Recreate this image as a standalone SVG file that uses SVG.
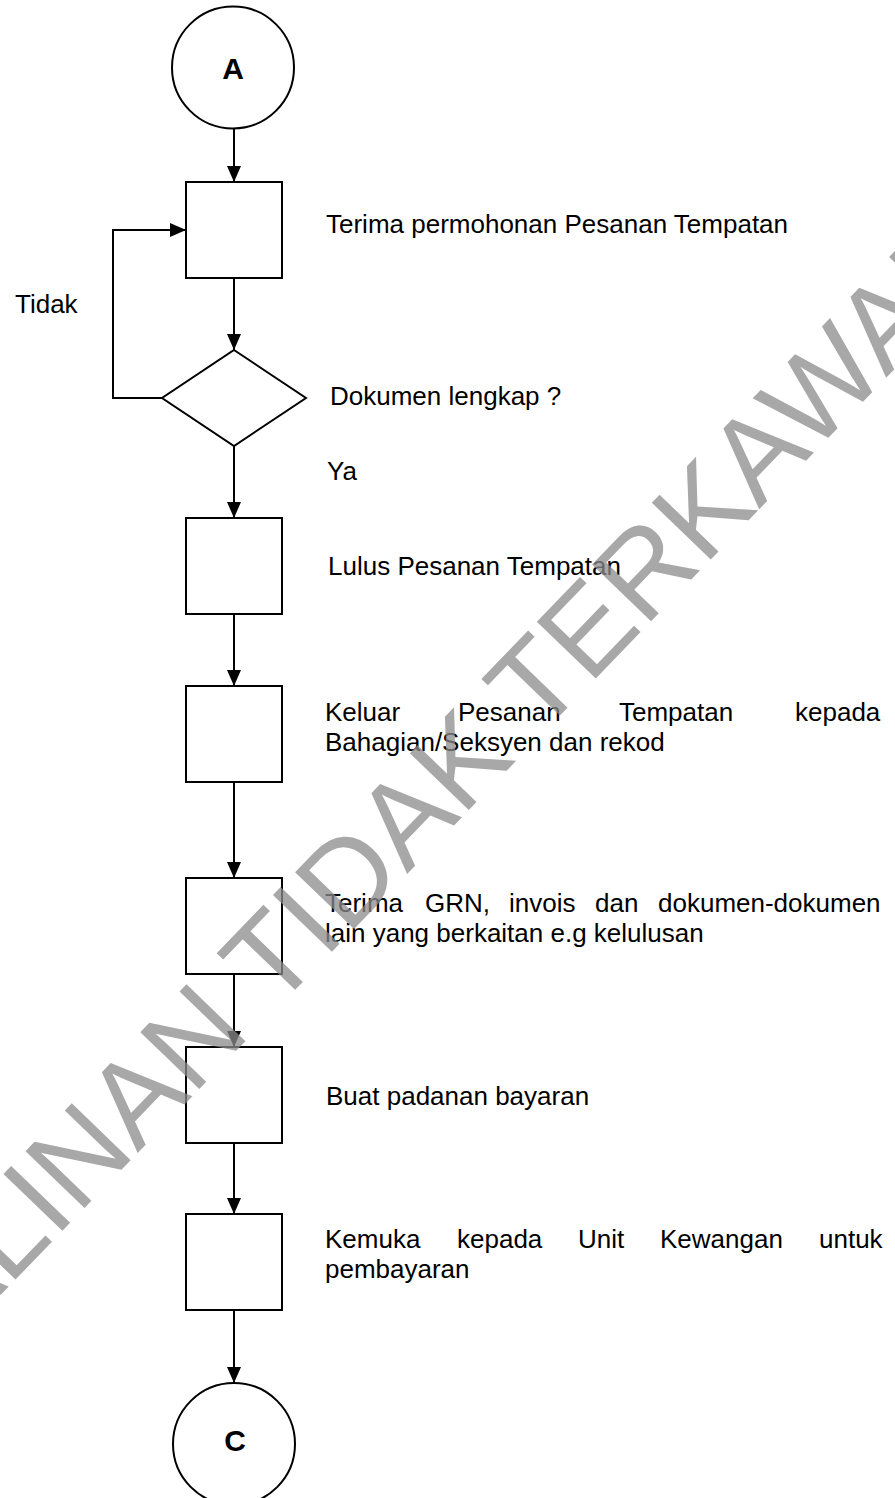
<svg xmlns="http://www.w3.org/2000/svg" width="895" height="1498" viewBox="0 0 895 1498">
<style>
.shape{fill:#fff;stroke:#000;stroke-width:2}
.conn{fill:none;stroke:#000;stroke-width:2}
.lbl{font-family:"Liberation Sans",Arial,sans-serif;font-size:26px;fill:#000}
.big{font-family:"Liberation Sans",Arial,sans-serif;font-size:30px;font-weight:bold;fill:#000}
.wm{font-family:"Liberation Sans",Arial,sans-serif;font-size:119px;fill:#8c8c8c;opacity:0.75}
</style>
<defs>
<marker id="arr" markerUnits="userSpaceOnUse" markerWidth="16" markerHeight="14" refX="16" refY="7" orient="auto">
<path d="M0,0 L16,7 L0,14 z" fill="#000"/>
</marker>
</defs>
<rect width="895" height="1498" fill="#fff"/>

<g id="connectors">
<line class="conn" x1="234" y1="128" x2="234" y2="182" marker-end="url(#arr)"/>
<line class="conn" x1="234" y1="278" x2="234" y2="350" marker-end="url(#arr)"/>
<path class="conn" d="M162,398 H113 V230 H186" marker-end="url(#arr)"/>
<line class="conn" x1="234" y1="446" x2="234" y2="518" marker-end="url(#arr)"/>
<line class="conn" x1="234" y1="614" x2="234" y2="686" marker-end="url(#arr)"/>
<line class="conn" x1="234" y1="782" x2="234" y2="878" marker-end="url(#arr)"/>
<line class="conn" x1="234" y1="974" x2="234" y2="1047" marker-end="url(#arr)"/>
<line class="conn" x1="234" y1="1143" x2="234" y2="1214" marker-end="url(#arr)"/>
<line class="conn" x1="234" y1="1310" x2="234" y2="1383" marker-end="url(#arr)"/>
</g>

<g id="start-A">
<circle class="shape" cx="233" cy="67.5" r="61"/>
<text class="big" x="233" y="79" text-anchor="middle">A</text>
</g>

<g id="step-terima">
<rect class="shape" x="186" y="182" width="96" height="96"/>
<text class="lbl" x="326" y="233">Terima permohonan Pesanan Tempatan</text>
</g>

<g id="label-tidak">
<text class="lbl" x="15" y="313">Tidak</text>
</g>

<g id="decision-dokumen">
<polygon class="shape" points="234,350 306,398 234,446 162,398"/>
<text class="lbl" x="330" y="405">Dokumen lengkap ?</text>
</g>

<g id="label-ya">
<text class="lbl" x="327" y="480">Ya</text>
</g>

<g id="step-lulus">
<rect class="shape" x="186" y="518" width="96" height="96"/>
<text class="lbl" x="328" y="575">Lulus Pesanan Tempatan</text>
</g>

<g id="step-keluar">
<rect class="shape" x="186" y="686" width="96" height="96"/>
<text class="lbl" y="721"><tspan x="325">Keluar</tspan><tspan x="458">Pesanan</tspan><tspan x="619">Tempatan</tspan><tspan x="795">kepada</tspan></text>
<text class="lbl" x="325" y="751">Bahagian/Seksyen dan rekod</text>
</g>

<g id="step-grn">
<rect class="shape" x="186" y="878" width="96" height="96"/>
<text class="lbl" y="912"><tspan x="325">Terima</tspan><tspan x="425">GRN,</tspan><tspan x="509">invois</tspan><tspan x="595">dan</tspan><tspan x="658">dokumen-dokumen</tspan></text>
<text class="lbl" x="325" y="942">lain yang berkaitan e.g kelulusan</text>
</g>

<g id="step-padanan">
<rect class="shape" x="186" y="1047" width="96" height="96"/>
<text class="lbl" x="326" y="1105">Buat padanan bayaran</text>
</g>

<g id="step-kemuka">
<rect class="shape" x="186" y="1214" width="96" height="96"/>
<text class="lbl" y="1248"><tspan x="325">Kemuka</tspan><tspan x="457">kepada</tspan><tspan x="578">Unit</tspan><tspan x="660">Kewangan</tspan><tspan x="819">untuk</tspan></text>
<text class="lbl" x="325" y="1278">pembayaran</text>
</g>

<g id="end-C">
<circle class="shape" cx="234" cy="1444" r="61"/>
<text class="big" x="235" y="1451" text-anchor="middle">C</text>
</g>

<g id="watermark">
<text class="wm" transform="translate(-101.5,1400.6) rotate(-46)" x="0" y="0">SALINAN TIDAK TERKAWAL</text>
</g>
</svg>
